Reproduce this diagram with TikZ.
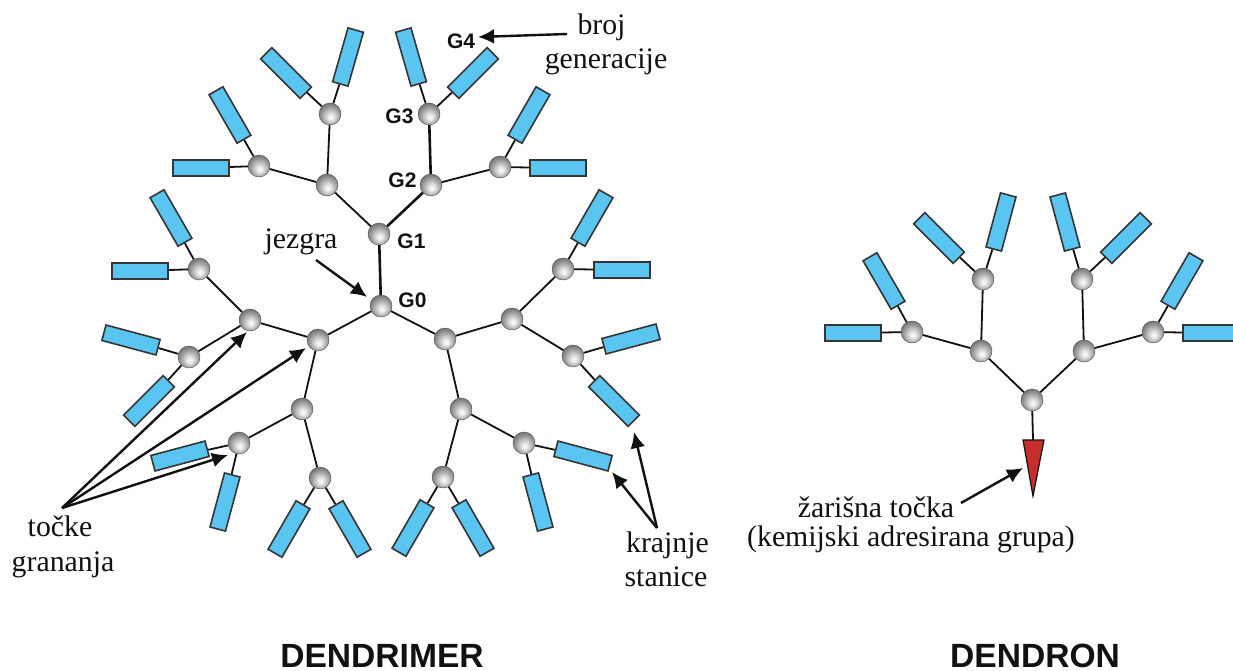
\documentclass[tikz,border=0pt]{standalone}
\usepackage{fontspec}
\setmainfont{Liberation Serif}
\setsansfont{Liberation Sans}
\usetikzlibrary{arrows.meta}
\definecolor{leafblue}{HTML}{5BC5F2}
\definecolor{focalred}{HTML}{C62D2D}
\definecolor{ink}{HTML}{111111}
\pgfdeclareradialshading{ballshade}{\pgfpoint{2bp}{-8bp}}{%
  color(0bp)=(white);color(7bp)=(white!90!black);color(20bp)=(black!38);color(32bp)=(black!62);color(48bp)=(black!85)}
\tikzset{
  ball/.style={circle,minimum size=22pt,inner sep=0pt,shading=ballshade,draw=black!70,line width=.4pt},
  leaf/.style={rectangle,minimum width=56pt,minimum height=16pt,inner sep=0pt,fill=leafblue,draw=ink!85,line width=1.6pt},
  bond/.style={draw=ink,line width=1.8pt},
  thickbond/.style={draw=ink,line width=2.6pt},
  pointer/.style={draw=ink,line width=2.4pt,-{Latex[length=16pt,width=15pt]}},
  serif/.style={font=\fontsize{29.8}{34}\selectfont,anchor=base,text=ink,inner sep=0pt},
  gen/.style={font=\sffamily\bfseries\fontsize{21}{23}\selectfont,text=ink,inner sep=0pt},
  heading/.style={font=\sffamily\bfseries\fontsize{33.6}{36}\selectfont,text=ink,inner sep=0pt,anchor=base},
}
\begin{document}
\begin{tikzpicture}[x=1pt,y=-1pt]
\useasboundingbox (0,0) rectangle (1233,671);
\clip (0,0) rectangle (1233,671);
% branching balls
\foreach \n/\x/\y in {
 g0/381/306,g1/379/234,g2/431/185,g3/429/114,a2/327/185,a3/330/114,b3/500/167,c1/445/339,c2/512/319,
 c3/563/269,c4/573/356,d2/461/409,d3/524/443,d4/443/477,e1/318/340,e2/250/320,e3/199/269,e4/189/357,
 f2/302/409,f3/239/443,f4/320/478,h3/259/166,
 p0/1032/400,p1/981/351,p2/1084/351,p3/912/332,p4/1153/332,p5/983/279,p6/1082/279}
  \node[ball] (\n) at (\x,\y) {};
% end groups
\foreach \n/\x/\y/\a in {
 r1/348/57/74,r2/411/57/106,r3/473/73/45,r4/529/115/60,r5/558/168/0,r6/592/218/60,r7/622/270/0,
 r8/286/73/135,r9/230/115/120,r10/201/168/0,r11/171/218/120,r12/140/271/0,r13/131/340/-15,r14/149/401/45,
 r15/180/456/15,r16/225/502/75,r17/289/529/60,r18/350/529/120,r19/413/528/60,r20/473/528/120,
 r21/538/502/105,r22/583/456/-15,r23/631/339/15,r24/614/401/-45,
 s1/853/333/0,s2/1211/333/0,s3/884/281/120,s4/939/238/135,s5/1001/222/75,s6/1065/222/105,s7/1126/238/45,s8/1182/281/60}
  \node[leaf,rotate=\a] (\n) at (\x,\y) {};
% focal point
\coordinate (focalL) at (1023,440);
\coordinate (focalR) at (1044,440);
\coordinate (focalB) at (1033,496);
\coordinate (focalT) at (1033,440);
\path[draw=ink,line width=1.2pt,fill=focalred] (focalL) -- (focalR) -- (focalB) -- cycle;
% connectors
\foreach \a/\b in {g1/g0,g1/g2,g2/g3}
  \path[thickbond] (\a) -- (\b);
\foreach \a/\b in {g1/a2,a2/a3,a2/h3,g2/b3,g3/r2,g3/r3,a3/r1,a3/r8,b3/r4,b3/r5,h3/r9,h3/r10,
  g0/c1,c1/c2,c2/c3,c2/c4,c3/r6,c3/r7,c4/r23,c4/r24,c1/d2,d2/d3,d2/d4,d3/r21,d3/r22,d4/r19,d4/r20,
  g0/e1,e1/e2,e2/e3,e2/e4,e3/r11,e3/r12,e4/r13,e4/r14,e1/f2,f2/f3,f2/f4,f3/r15,f3/r16,f4/r17,f4/r18,
  p0/p1,p0/p2,p1/p3,p1/p5,p2/p4,p2/p6,p3/s1,p3/s3,p5/s4,p5/s5,p6/s6,p6/s7,p4/s2,p4/s8,p0/focalT}
  \path[bond] (\a) -- (\b);
% generation labels
\node[gen] (lg0) at (412.5,300) {G0};
\node[gen] (lg1) at (411.5,241) {G1};
\node[gen] (lg2) at (402.5,180) {G2};
\node[gen] (lg3) at (399.5,116) {G3};
\node[gen] (lg4) at (461,41) {G4};
% annotations
\node[serif] (broj) at (601.5,35) {broj};
\node[serif] (gener) at (606,69) {generacije};
\node[serif] (jez) at (301,248) {jezgra};
\node[serif] (tocke) at (60,536) {točke};
\node[serif] (granan) at (63,571) {grananja};
\node[serif] (kraj) at (667.5,552) {krajnje};
\node[serif] (stan) at (666,586) {stanice};
\node[serif] (zar) at (876,517) {žarišna točka};
\node[serif] (kem) at (911,546) {(kemijski adresirana grupa)};
\coordinate (tipG4) at (478,37);
\coordinate (tipCore) at (367,297);
\coordinate (tipE2) at (247,332);
\coordinate (tipE1) at (306,348);
\coordinate (tipF3) at (228,455);
\coordinate (tipR22) at (612,472);
\coordinate (tipR24) at (634,432);
\coordinate (tipFocal) at (1023,468);
\coordinate (fromBroj) at (567,34);
\coordinate (fromJez) at (316,260);
\coordinate (fromTocke) at (62,508);
\coordinate (fromKraj) at (657,528);
\coordinate (fromZar) at (961,503);
\path[pointer] (fromBroj) -- (tipG4);
\path[pointer] (fromJez) -- (tipCore);
\path[pointer] (fromTocke) -- (tipE2);
\path[pointer] (fromTocke) -- (tipE1);
\path[pointer] (fromTocke) -- (tipF3);
\path[pointer] (fromKraj) -- (tipR22);
\path[pointer] (fromKraj) -- (tipR24);
\path[pointer] (fromZar) -- (tipFocal);
% headings
\node[heading] (hd1) at (382,667.5) {DENDRIMER};
\node[heading] (hd2) at (1035,667.5) {DENDRON};
\end{tikzpicture}
\end{document}
